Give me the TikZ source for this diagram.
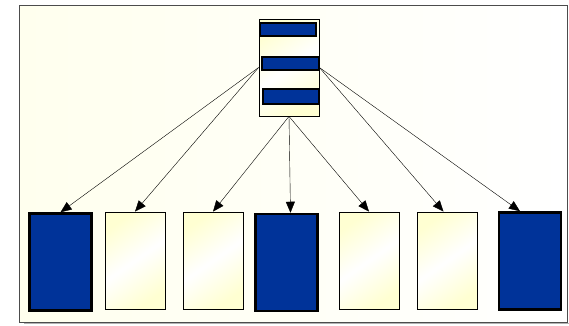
\documentclass[tikz,border=0pt]{standalone}
\usetikzlibrary{arrows.meta}
\definecolor{boxblue}{RGB}{0,51,153}
\definecolor{cream}{RGB}{255,255,210}
\definecolor{paper}{RGB}{255,255,238}
\begin{document}
\begin{tikzpicture}[x=1pt,y=-1pt,
    bluebox/.style={draw=black, line width=2.5pt, fill=boxblue, minimum width=62pt, minimum height=97pt, inner sep=0pt},
    creambox/.style={draw=black, line width=0.8pt, top color=cream, bottom color=cream, middle color=white, shading angle=35, minimum width=60pt, minimum height=97pt, inner sep=0pt},
    bar/.style={draw=black, line width=2pt, fill=boxblue, minimum width=56pt, minimum height=13pt, inner sep=0pt},
    link/.style={-{Triangle[length=11pt,width=9pt]}, line width=0.4pt}]
                \useasboundingbox (0,0) rectangle (569,325);
                % Frame
                \draw[gray!60, line width=1pt] (24,323.5) -- (569,323.5);
                \draw[black!70, line width=0.8pt, left color=paper, right color=white] (19,5) rectangle (567,322);
                
                % Stack on top
                \node[creambox, minimum height=97pt] (stack) at (289,67.5) {};
                \node[bar, minimum width=56pt] (bar1) at (288,29) {};
                \node[bar, minimum width=57pt] (bar2) at (290.5,63) {};
                \node[bar, minimum height=15pt] (bar3) at (290.5,96.5) {};
                
                % Row of boxes
                \node[bluebox] (b1) at (60.5,262) {};
                \node[creambox] (b2) at (135,260.5) {};
                \node[creambox] (b3) at (213,260.5) {};
                \node[bluebox] (b4) at (286.5,262.5) {};
                \node[creambox] (b5) at (369,260.5) {};
                \node[creambox] (b6) at (447.5,260.5) {};
                \node[bluebox] (b7) at (530,261) {};
                
                % Links
                \draw[link] (stack.west) -- (b1.north);
                \draw[link] (stack.west) -- (b2.north);
                \draw[link] (stack.south) -- (b3.north);
                \draw[link] (stack.south) -- ([xshift=4pt]b4.north);
                \draw[link] (stack.south) -- (b5.north);
                \draw[link] (stack.east) -- ([xshift=-4pt]b6.north);
                \draw[link] (stack.east) -- ([xshift=-10pt]b7.north);
\end{tikzpicture}
\end{document}
